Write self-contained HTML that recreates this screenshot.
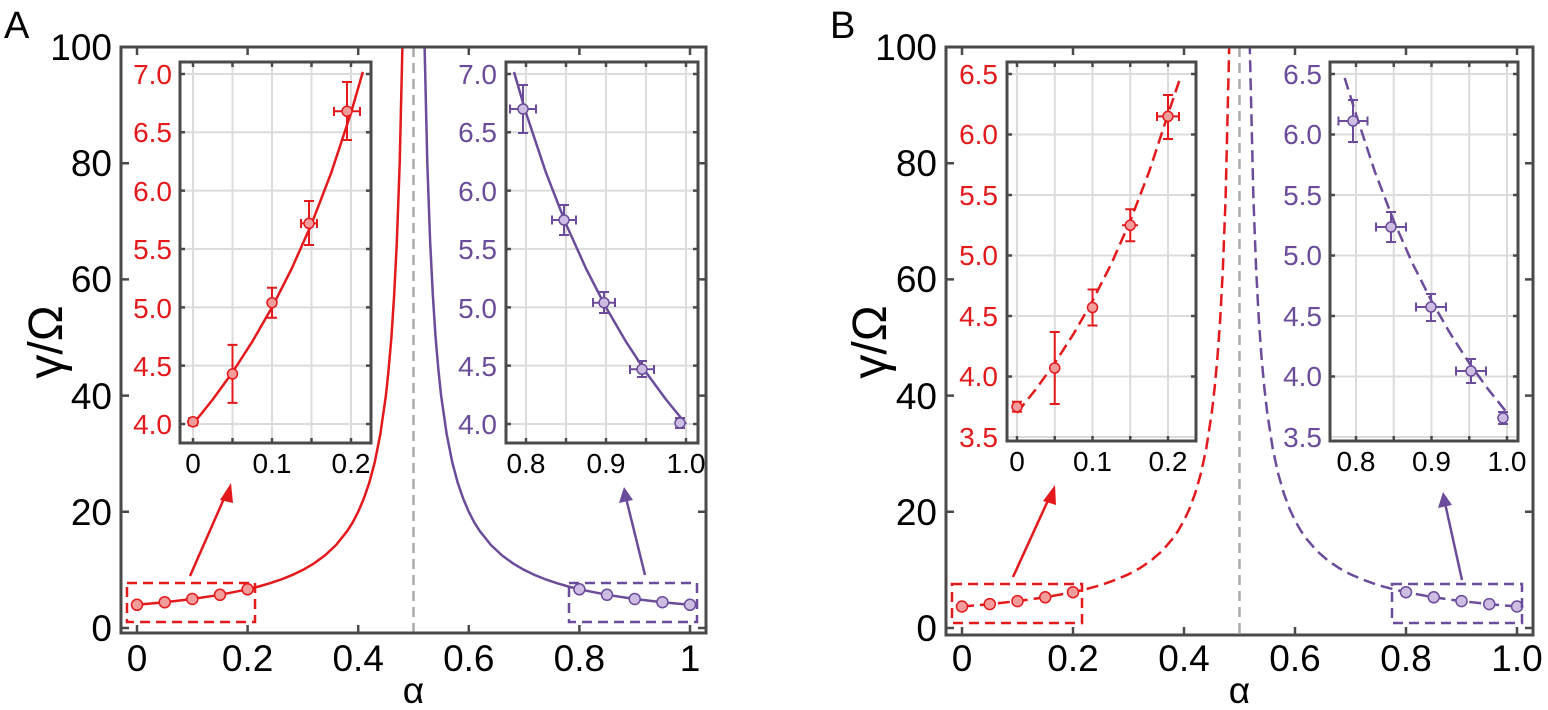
<!DOCTYPE html>
<html><head><meta charset="utf-8"><style>
html,body{margin:0;padding:0;background:#fff}
svg{display:block}
text{font-family:"Liberation Sans","DejaVu Sans",sans-serif}
</style></head><body>
<svg width="1548" height="710" viewBox="0 0 1548 710" xmlns="http://www.w3.org/2000/svg">
<style>
.fr{fill:none;stroke:#4a4a4a;stroke-width:3}
.gr{stroke:#dcdcdc;stroke-width:2}
.tk{stroke:#4a4a4a;stroke-width:2.5}
.R{stroke:#e3191c;fill:none;stroke-width:2.5;stroke-linejoin:round}
.P{stroke:#6b4c9a;fill:none;stroke-width:2.5;stroke-linejoin:round}
.mr{fill:#f29c9c;stroke:#e3191c;stroke-width:1.5}
.mp{fill:#cdbde3;stroke:#6b4c9a;stroke-width:1.5}
.big{font-size:37px;fill:#000}
.sm{font-size:28px;fill:#000}
.rd{fill:#e3191c}
.pu{fill:#6b4c9a}
</style>

<!-- ================= PANEL A ================= -->
<text x="4" y="38" font-size="38">A</text>
<text transform="translate(62,342) rotate(-90)" font-size="48" text-anchor="middle">γ/Ω</text>
<g class="big" text-anchor="end">
<text x="112" y="641">0</text><text x="112" y="525">20</text><text x="112" y="409">40</text>
<text x="112" y="292">60</text><text x="112" y="176">80</text><text x="112" y="60">100</text>
</g>
<g class="big" text-anchor="middle">
<text x="137" y="671">0</text><text x="247.6" y="671">0.2</text><text x="358.2" y="671">0.4</text>
<text x="468.8" y="671">0.6</text><text x="579.4" y="671">0.8</text><text x="690" y="671">1</text>
<text x="413.5" y="703">α</text>
</g>
<g class="tk">
<path d="M137,633v-8M247.6,633v-8M358.2,633v-8M468.8,633v-8M579.4,633v-8M690,633v-8"/>
<path d="M137,47v8M247.6,47v8M358.2,47v8M468.8,47v8M579.4,47v8M690,47v8"/>
<path d="M121,628h8M121,511.8h8M121,395.6h8M121,279.4h8M121,163.2h8"/>
<path d="M706,628h-8M706,511.8h-8M706,395.6h-8M706,279.4h-8M706,163.2h-8"/>
</g>
<line x1="413.5" y1="47" x2="413.5" y2="633" stroke="#aaa" stroke-width="2.5" stroke-dasharray="10,6"/>
<polyline class="R" points="137,604.8 164.7,602.2 192.3,599 220,594.8 247.6,589.3 258.7,586.5 269.7,583.3 280.8,579.6 291.8,575.2 302.9,569.9 314,563.4 325,555.4 336.1,545 347.1,531.2 352.7,522.4 358.2,511.8 363.7,498.9 369.3,482.7 374.8,462 380.3,434.3 385.9,395.6 388.6,369.8 391.4,337.5 394.1,296 396.9,240.7 399.7,163.2 402.4,47"/>
<polyline class="P" points="690,604.8 662.3,602.2 634.7,599 607,594.8 579.4,589.3 568.3,586.5 557.3,583.3 546.2,579.6 535.2,575.2 524.1,569.9 513,563.4 502,555.4 490.9,545 479.9,531.2 474.3,522.4 468.8,511.8 463.3,498.9 457.7,482.7 452.2,462 446.7,434.3 441.1,395.6 438.4,369.8 435.6,337.5 432.9,296 430.1,240.7 427.3,163.2 424.6,47"/>
<g class="mr"><circle cx="137" cy="604.8" r="5.5"/><circle cx="164.7" cy="602.2" r="5.5"/><circle cx="192.3" cy="599" r="5.5"/><circle cx="220" cy="594.8" r="5.5"/><circle cx="247.6" cy="589.3" r="5.5"/></g>
<g class="mp"><circle cx="690" cy="604.8" r="5.5"/><circle cx="662.4" cy="602.2" r="5.5"/><circle cx="634.7" cy="599" r="5.5"/><circle cx="607" cy="594.8" r="5.5"/><circle cx="579.4" cy="589.3" r="5.5"/></g>
<rect x="127" y="583" width="128" height="39" fill="none" stroke="#e3191c" stroke-width="2.5" stroke-dasharray="10,6"/>
<rect x="569" y="583" width="128" height="39" fill="none" stroke="#6b4c9a" stroke-width="2.5" stroke-dasharray="10,6"/>
<line x1="190" y1="576" x2="226" y2="494" stroke="#e3191c" stroke-width="2.5"/>
<polygon points="231,483 220,500 233,503" fill="#e3191c"/>
<line x1="645" y1="575" x2="626" y2="498" stroke="#6b4c9a" stroke-width="2.5"/>
<polygon points="624,487 619,503 633,500" fill="#6b4c9a"/>
<rect x="121" y="47" width="585" height="586" class="fr"/>

<!-- Inset A left -->
<rect x="180" y="62" width="191" height="381" fill="#fff"/>
<g class="gr"><path d="M193,62V443M232.5,62V443M272,62V443M311.5,62V443M351,62V443M180,424H371M180,365.6H371M180,307.4H371M180,249H371M180,190.6H371M180,132.3H371M180,74H371"/></g>
<g class="tk"><path d="M193,443v-5M232.5,443v-5M272,443v-5M311.5,443v-5M351,443v-5M193,62v5M232.5,62v5M272,62v5M311.5,62v5M351,62v5M180,424h5M180,365.6h5M180,307.4h5M180,249h5M180,190.6h5M180,132.3h5M180,74h5M371,424h-5M371,365.6h-5M371,307.4h-5M371,249h-5M371,190.6h-5M371,132.3h-5M371,74h-5"/></g>
<polyline class="R" points="193,424.1 212.75,399.5 232.5,372.3 252.25,341.7 272,307.4 291.75,268.5 311.5,224.1 331.25,172.7 351,112.9 362.85,71.9"/>
<g stroke="#e3191c" stroke-width="2" fill="none">
<path d="M193,418.3v7M188,418.3h10M188,425.3h10M187,421.8h12"/>
<path d="M232.5,344.9v58M227.5,344.9h10M227.5,402.9h10M228,373.9h9"/>
<path d="M272,287.7v30M267,287.7h10M267,317.7h10M268,302.7h8"/>
<path d="M309,201v44M304,201h10M304,245h10M301,223.4h16M301,219v9M317,219v9"/>
<path d="M347,82v58M342,82h10M342,140h10M334,111.3h26M334,107v9M360,107v9"/>
</g>
<g class="mr"><circle cx="193" cy="421.8" r="5"/><circle cx="232.5" cy="373.9" r="5"/><circle cx="272" cy="302.7" r="5"/><circle cx="309" cy="223.4" r="5"/><circle cx="347" cy="111.3" r="5"/></g>
<rect x="180" y="62" width="191" height="381" class="fr"/>
<g class="sm rd" text-anchor="end">
<text x="172" y="434">4.0</text><text x="172" y="376">4.5</text><text x="172" y="318">5.0</text><text x="172" y="259">5.5</text><text x="172" y="201">6.0</text><text x="172" y="142">6.5</text><text x="172" y="84">7.0</text>
</g>
<g class="sm" text-anchor="middle"><text x="193" y="473">0</text><text x="272" y="473">0.1</text><text x="351" y="473">0.2</text></g>

<!-- Inset A right -->
<rect x="506" y="62" width="192" height="381" fill="#fff"/>
<g class="gr"><path d="M526,62V443M566,62V443M606,62V443M646,62V443M686,62V443M506,424H698M506,365.6H698M506,307.4H698M506,249H698M506,190.6H698M506,132.3H698M506,74H698"/></g>
<g class="tk"><path d="M526,443v-5M566,443v-5M606,443v-5M646,443v-5M686,443v-5M526,62v5M566,62v5M606,62v5M646,62v5M686,62v5M506,424h5M506,365.6h5M506,307.4h5M506,249h5M506,190.6h5M506,132.3h5M506,74h5M698,424h-5M698,365.6h-5M698,307.4h-5M698,249h-5M698,190.6h-5M698,132.3h-5M698,74h-5"/></g>
<polyline class="P" points="514,72 526,112.9 546,172.7 566,224.1 586,268.5 606,307.4 626,341.7 646,372.3 666,399.5 686,424.1"/>
<g stroke="#6b4c9a" stroke-width="2" fill="none">
<path d="M523,85v48M518,85h10M518,133h10M510,109h26M510,104.5v9M536,104.5v9"/>
<path d="M564,205v30M559,205h10M559,235h10M552,220h24M552,215.5v9M576,215.5v9"/>
<path d="M604,292v21M599,292h10M599,313h10M593,302.7h22M593,298v9M615,298v9"/>
<path d="M642,361v16M637,361h10M637,377h10M630,369.3h24M630,365v9M654,365v9"/>
<path d="M680,418v10M675,418h10M675,428h10M676,423h8"/>
</g>
<g class="mp"><circle cx="523" cy="109" r="5"/><circle cx="564" cy="220" r="5"/><circle cx="604" cy="302.7" r="5"/><circle cx="642" cy="369.3" r="5"/><circle cx="680" cy="423" r="5"/></g>
<rect x="506" y="62" width="192" height="381" class="fr"/>
<g class="sm pu" text-anchor="end">
<text x="497" y="434">4.0</text><text x="497" y="376">4.5</text><text x="497" y="318">5.0</text><text x="497" y="259">5.5</text><text x="497" y="201">6.0</text><text x="497" y="142">6.5</text><text x="497" y="84">7.0</text>
</g>
<g class="sm" text-anchor="middle"><text x="526" y="473">0.8</text><text x="606" y="473">0.9</text><text x="686" y="473">1.0</text></g>

<!-- ================= PANEL B ================= -->
<text x="830" y="38" font-size="38">B</text>
<text transform="translate(886,342) rotate(-90)" font-size="48" text-anchor="middle">γ/Ω</text>
<g class="big" text-anchor="end">
<text x="937" y="641">0</text><text x="937" y="525">20</text><text x="937" y="409">40</text>
<text x="937" y="292">60</text><text x="937" y="176">80</text><text x="937" y="60">100</text>
</g>
<g class="big" text-anchor="middle">
<text x="962" y="671">0</text><text x="1073" y="671">0.2</text><text x="1184" y="671">0.4</text>
<text x="1295" y="671">0.6</text><text x="1406" y="671">0.8</text><text x="1517" y="671">1.0</text>
<text x="1239.5" y="703">α</text>
</g>
<g class="tk">
<path d="M962,635v-8M1073,635v-8M1184,635v-8M1295,635v-8M1406,635v-8M1517,635v-8"/>
<path d="M962,47v8M1073,47v8M1184,47v8M1295,47v8M1406,47v8M1517,47v8"/>
<path d="M946,628h8M946,511.8h8M946,395.6h8M946,279.4h8M946,163.2h8"/>
<path d="M1533,628h-8M1533,511.8h-8M1533,395.6h-8M1533,279.4h-8M1533,163.2h-8"/>
</g>
<line x1="1239.5" y1="47" x2="1239.5" y2="635" stroke="#aaa" stroke-width="2.5" stroke-dasharray="10,6"/>
<polyline class="R" stroke-dasharray="12,6" points="962,606.5 989.75,604.1 1017.5,601.1 1045.25,597.3 1073,592.2 1084.1,589.6 1095.2,586.7 1106.3,583.2 1117.4,579.1 1128.5,574.3 1139.6,568.3 1150.7,560.8 1161.8,551.2 1172.9,538.4 1178.45,530.3 1184,520.5 1189.55,508.6 1195.1,493.6 1200.65,474.4 1206.2,448.9 1211.75,413 1214.5,389.1 1217.3,359.3 1220.1,320.9 1222.85,269.7 1225.6,198 1229.2,47"/>
<polyline class="P" stroke-dasharray="12,6" points="1517,606.5 1489.25,604.1 1461.5,601.1 1433.75,597.3 1406,592.2 1394.9,589.6 1383.8,586.7 1372.7,583.2 1361.6,579.1 1350.5,574.3 1339.4,568.3 1328.3,560.8 1317.2,551.2 1306.1,538.4 1300.55,530.3 1295,520.5 1289.45,508.6 1283.9,493.6 1278.35,474.4 1272.8,448.9 1267.25,413 1264.5,389.1 1261.7,359.3 1258.9,320.9 1256.15,269.7 1253.4,198 1249.8,47"/>
<g class="mr"><circle cx="962" cy="606.5" r="5.5"/><circle cx="989.75" cy="604.1" r="5.5"/><circle cx="1017.5" cy="601.1" r="5.5"/><circle cx="1045.25" cy="597.3" r="5.5"/><circle cx="1073" cy="592.2" r="5.5"/></g>
<g class="mp"><circle cx="1517" cy="606.5" r="5.5"/><circle cx="1489.25" cy="604.1" r="5.5"/><circle cx="1461.5" cy="601.1" r="5.5"/><circle cx="1433.75" cy="597.3" r="5.5"/><circle cx="1406" cy="592.2" r="5.5"/></g>
<rect x="952" y="584" width="130" height="39" fill="none" stroke="#e3191c" stroke-width="2.5" stroke-dasharray="10,6"/>
<rect x="1392" y="584" width="130" height="39" fill="none" stroke="#6b4c9a" stroke-width="2.5" stroke-dasharray="10,6"/>
<line x1="1013" y1="577" x2="1050" y2="496" stroke="#e3191c" stroke-width="2.5"/>
<polygon points="1055,485 1043,501 1056,505" fill="#e3191c"/>
<line x1="1462" y1="580" x2="1445" y2="503" stroke="#6b4c9a" stroke-width="2.5"/>
<polygon points="1443,492 1438,508 1452,505" fill="#6b4c9a"/>
<rect x="946" y="47" width="587" height="588" class="fr"/>

<!-- Inset B left -->
<rect x="1007" y="62" width="189" height="379" fill="#fff"/>
<g class="gr"><path d="M1017,62V441M1054.75,62V441M1092.5,62V441M1130.25,62V441M1168,62V441M1007,74H1196M1007,134.5H1196M1007,195H1196M1007,255.5H1196M1007,316H1196M1007,376.5H1196M1007,437H1196"/></g>
<g class="tk"><path d="M1017,441v-5M1054.75,441v-5M1092.5,441v-5M1130.25,441v-5M1168,441v-5M1017,62v5M1054.75,62v5M1092.5,62v5M1130.25,62v5M1168,62v5M1007,74h5M1007,134.5h5M1007,195h5M1007,255.5h5M1007,316h5M1007,376.5h5M1196,74h-5M1196,134.5h-5M1196,195h-5M1196,255.5h-5M1196,316h-5M1196,376.5h-5"/></g>
<polyline class="R" stroke-dasharray="12,6" points="1017,412.8 1035.9,389.2 1054.75,363.1 1073.6,333.8 1092.5,300.9 1111.4,263.6 1130.25,220.9 1149.1,171.8 1168,114.3 1179.5,80"/>
<g stroke="#e3191c" stroke-width="2" fill="none">
<path d="M1017,401.8v10M1012,401.8h10M1012,411.8h10"/>
<path d="M1054.75,332v72M1049.75,332h10M1049.75,404h10"/>
<path d="M1092.5,289.5v36M1087.5,289.5h10M1087.5,325.5h10"/>
<path d="M1130.25,209.3v32M1125.25,209.3h10M1125.25,241.3h10M1122,225.3h16"/>
<path d="M1168,95v44M1163,95h10M1163,139h10M1157,116.4h22M1157,112v9M1179,112v9"/>
</g>
<g class="mr"><circle cx="1017" cy="406.8" r="5"/><circle cx="1054.75" cy="368" r="5"/><circle cx="1092.5" cy="307.5" r="5"/><circle cx="1130.25" cy="225.3" r="5"/><circle cx="1168" cy="116.4" r="5"/></g>
<rect x="1007" y="62" width="189" height="379" class="fr"/>
<g class="sm rd" text-anchor="end">
<text x="998" y="447">3.5</text><text x="998" y="386">4.0</text><text x="998" y="326">4.5</text><text x="998" y="265">5.0</text><text x="998" y="205">5.5</text><text x="998" y="144">6.0</text><text x="998" y="84">6.5</text>
</g>
<g class="sm" text-anchor="middle"><text x="1017" y="471">0</text><text x="1092.5" y="471">0.1</text><text x="1168" y="471">0.2</text></g>

<!-- Inset B right -->
<rect x="1330" y="62" width="188" height="379" fill="#fff"/>
<g class="gr"><path d="M1356,62V441M1393.75,62V441M1431.5,62V441M1469.25,62V441M1507,62V441M1330,74H1518M1330,134.5H1518M1330,195H1518M1330,255.5H1518M1330,316H1518M1330,376.5H1518M1330,437H1518"/></g>
<g class="tk"><path d="M1356,441v-5M1393.75,441v-5M1431.5,441v-5M1469.25,441v-5M1507,441v-5M1356,62v5M1393.75,62v5M1431.5,62v5M1469.25,62v5M1507,62v5M1330,74h5M1330,134.5h5M1330,195h5M1330,255.5h5M1330,316h5M1330,376.5h5M1518,74h-5M1518,134.5h-5M1518,195h-5M1518,255.5h-5M1518,316h-5M1518,376.5h-5"/></g>
<polyline class="P" stroke-dasharray="12,6" points="1344.7,78 1356,114.3 1374.9,171.8 1393.75,220.9 1412.6,263.6 1431.5,300.9 1450.4,333.8 1469.25,363.1 1488.1,389.2 1507,412.8"/>
<g stroke="#6b4c9a" stroke-width="2" fill="none">
<path d="M1353,100v42M1348,100h10M1348,142h10M1338.5,121h29M1338.5,116.5v9M1367.5,116.5v9"/>
<path d="M1391,212v30M1386,212h10M1386,242h10M1376,227h30M1376,222.5v9M1406,222.5v9"/>
<path d="M1431,294v27M1426,294h10M1426,321h10M1416,307h30M1416,302.5v9M1446,302.5v9"/>
<path d="M1471,359v24M1466,359h10M1466,383h10M1456,371h30M1456,366.5v9M1486,366.5v9"/>
<path d="M1503,412v12M1498,412h10M1498,424h10M1498,418h10"/>
</g>
<g class="mp"><circle cx="1353" cy="121" r="5"/><circle cx="1391" cy="227" r="5"/><circle cx="1431" cy="307" r="5"/><circle cx="1471" cy="371" r="5"/><circle cx="1503" cy="418" r="5"/></g>
<rect x="1330" y="62" width="188" height="379" class="fr"/>
<g class="sm pu" text-anchor="end">
<text x="1322" y="447">3.5</text><text x="1322" y="386">4.0</text><text x="1322" y="326">4.5</text><text x="1322" y="265">5.0</text><text x="1322" y="205">5.5</text><text x="1322" y="144">6.0</text><text x="1322" y="84">6.5</text>
</g>
<g class="sm" text-anchor="middle"><text x="1356" y="471">0.8</text><text x="1431.5" y="471">0.9</text><text x="1507" y="471">1.0</text></g>
</svg>
</body></html>
